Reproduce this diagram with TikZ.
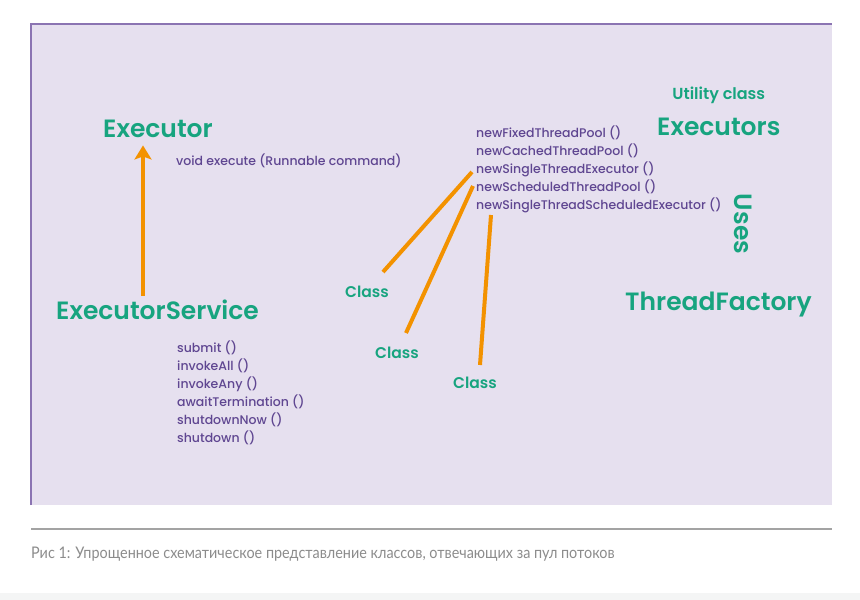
\documentclass[tikz,border=0pt]{standalone}
\usepackage{fontspec}
\setmainfont{Poppins}[UprightFont=* Medium, BoldFont=* SemiBold]
\newfontfamily\capfont{Lato}[FakeStretch=0.9]
\usetikzlibrary{positioning, calc, arrows.meta}
\definecolor{PanelLilac}{HTML}{E6E0EF}
\definecolor{PanelEdge}{HTML}{8B74B2}
\definecolor{ClassGreen}{HTML}{17A47F}
\definecolor{MethodPurple}{HTML}{5F4691}
\definecolor{LinkOrange}{HTML}{F39200}
\definecolor{RuleGrey}{HTML}{A3A3A3}
\definecolor{CaptionGrey}{HTML}{8C8C8C}
\definecolor{FootGrey}{HTML}{F4F5F5}

\begin{document}
\begin{tikzpicture}[
  x=1pt, y=-1pt,
  title/.style={text=ClassGreen, font=\bfseries\fontsize{25}{25}\selectfont, inner sep=0pt},
  tag/.style={text=ClassGreen, font=\bfseries\fontsize{16}{16}\selectfont, inner sep=0pt},
  methods/.style={text=MethodPurple, font=\fontsize{12.5}{18}\selectfont, align=left, inner sep=0pt},
  link/.style={LinkOrange, line width=4pt},
  arr/.style={-{Stealth[length=14pt, width=17pt, inset=3pt]}, LinkOrange, line width=4pt},
]
\useasboundingbox (0,0) rectangle (860,600);
\fill[white] (0,0) rectangle (860,600);

% panel
\fill[PanelLilac] (31,24) rectangle (832,505);
\draw[PanelEdge, line width=1.5pt] (31,505) -- (31,24) -- (832,24);
\draw[RuleGrey, line width=1.2pt] (31,529) -- (832,529);
\fill[FootGrey] (0,593) rectangle (860,600);

% interfaces
\node[title, anchor=base west] (executor) at (103,137) {Executor};
\node[methods, anchor=base west] (execute) at (176,165) {void execute (Runnable command)};
\node[title, anchor=base west] (service) at (56,319) {ExecutorService};
\node[methods, anchor=base west] (servicelist) at (177,442) {submit ()\\ invokeAll ()\\ invokeAny ()\\ awaitTermination ()\\ shutdownNow ()\\ shutdown ()};

% utility class
\node[title, anchor=base west] (executors) at (657,135) {Executors};
\node[tag, above=13pt of executors] (utility) {Utility class};
\node[methods, anchor=base west] (factorylist) at (476,209) {newFixedThreadPool ()\\ newCachedThreadPool ()\\ newSingleThreadExecutor ()\\ newScheduledThreadPool ()\\ newSingleThreadScheduledExecutor ()};
\node[title, rotate=-90] (uses) at (743,224) {Uses};
\node[title, anchor=base west] (factory) at (625,310) {ThreadFactory};

% implementations
\node[tag, font=\bfseries\fontsize{15.5}{15.5}\selectfont, anchor=base west] (class1) at (345,297) {Class};
\node[tag, font=\bfseries\fontsize{15.5}{15.5}\selectfont, anchor=base west] (class2) at (375,358) {Class};
\node[tag, font=\bfseries\fontsize{15.5}{15.5}\selectfont, anchor=base west] (class3) at (453,388) {Class};

\coordinate (shaft) at (143,0);
\coordinate (fan1) at (472,172);
\coordinate (fan2) at (473,186);
\coordinate (fan3) at (491,215);
\coordinate (foot1) at (383,272);
\coordinate (foot2) at (406,333);
\coordinate (foot3) at (480,365);

\draw[arr] ($(service.north -| shaft)+(0,-3)$) -- ($(executor.south -| shaft)+(0,8)$);
\draw[link] (foot1) -- (fan1);
\draw[link] (foot2) -- (fan2);
\draw[link] (foot3) -- (fan3);

\node[anchor=base west, text=CaptionGrey, font=\capfont\fontsize{16}{16}\selectfont, inner sep=0pt] (caption) at (31,558) {Рис 1: Упрощенное схематическое представление классов, отвечающих за пул потоков};

\end{tikzpicture}
\end{document}
